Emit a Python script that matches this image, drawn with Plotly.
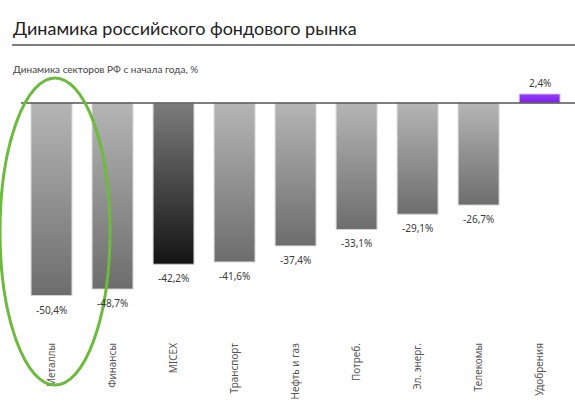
import plotly.graph_objects as go

# sector performance since the start of the year, %
sectors = ["Металлы", "Финансы", "MICEX", "Транспорт", "Нефть и газ",
           "Потреб.", "Эл. энерг.", "Телекомы", "Удобрения"]
changes = [-50.4, -48.7, -42.2, -41.6, -37.4, -33.1, -29.1, -26.7, 2.4]

title_text = "Динамика российского фондового рынка"
subtitle_text = "Динамика секторов РФ с начала года, %"

W, H = 575, 409
M_L, M_R, M_T, M_B = 21, 0, 84, 73
BAR_W = 0.67
FONT = "Noto Sans"
TITLE_FONT = "Lato"

GRAY = [[0, "#6d6d6d"], [1, "#b5b5b5"]]
DARK = [[0, "#141414"], [1, "#7c7c7c"]]
PURPLE = [[0, "#7a1fe6"], [1, "#9b3dff"]]


def paper_x(px):
    return (px - M_L) / (W - M_L - M_R)


def paper_y(py):
    return (H - M_B - py) / (H - M_T - M_B)


def bar_scale(name, value):
    if value > 0:
        return PURPLE
    if name == "MICEX":
        return DARK
    return GRAY


fig = go.Figure()

for i, (name, v) in enumerate(zip(sectors, changes)):
    x0, x1 = i - BAR_W / 2, i + BAR_W / 2
    fig.add_trace(
        go.Scatter(
            x=[x0, x1, x1, x0, x0],
            y=[0, 0, v, v, 0],
            mode="lines",
            fill="toself",
            fillgradient=dict(type="vertical", colorscale=bar_scale(name, v)),
            line=dict(color="#d2d2d2", width=1),
            hoverinfo="skip",
            showlegend=False,
        )
    )
    label = f"{v:.1f}%".replace(".", ",")
    fig.add_annotation(
        x=i, y=v, xref="x", yref="y",
        text=label, showarrow=False,
        yanchor="top" if v < 0 else "bottom",
        yshift=-5 if v < 0 else 2,
        font=dict(family=FONT, size=10, color="#3a3a3a"),
    )

# zero line across the plot
fig.add_shape(type="line", xref="paper", yref="y", x0=0, x1=1, y0=0, y1=0,
              line=dict(color="#555555", width=1.5), layer="above")

# title underline
fig.add_shape(type="line", xref="paper", yref="paper",
              x0=paper_x(12), x1=paper_x(W), y0=paper_y(45), y1=paper_y(45),
              line=dict(color="#555555", width=1.5))

# green highlight ellipse around the first two sectors
fig.add_shape(type="circle", xref="paper", yref="paper",
              x0=paper_x(0), x1=paper_x(110), y0=paper_y(385), y1=paper_y(78),
              line=dict(color="#6cbb3c", width=3), layer="above")

fig.add_annotation(
    xref="paper", yref="paper", x=paper_x(11), y=paper_y(28),
    xanchor="left", yanchor="middle", showarrow=False,
    text=title_text, font=dict(family=TITLE_FONT, size=18, color="#222222"),
)
fig.add_annotation(
    xref="paper", yref="paper", x=paper_x(11), y=paper_y(69),
    xanchor="left", yanchor="middle", showarrow=False,
    text=subtitle_text, font=dict(family=TITLE_FONT, size=10, color="#444444"),
)

fig.update_layout(
    width=W, height=H,
    margin=dict(l=M_L, r=M_R, t=M_T, b=M_B),
    paper_bgcolor="white", plot_bgcolor="white",
    showlegend=False,
    xaxis=dict(
        range=[-0.5, 8.58],
        tickmode="array", tickvals=list(range(len(sectors))), ticktext=sectors,
        tickangle=-90, showgrid=False, zeroline=False, showline=False,
        ticks="", ticklabelstandoff=4,
        tickfont=dict(family=FONT, size=10, color="#555555"),
    ),
    yaxis=dict(range=[-61, 5], visible=False, showgrid=False, zeroline=False),
)

fig.write_html(
    "out.html",
    config={"displayModeBar": False},
    post_script="document.body.style.margin = '0';",
)
